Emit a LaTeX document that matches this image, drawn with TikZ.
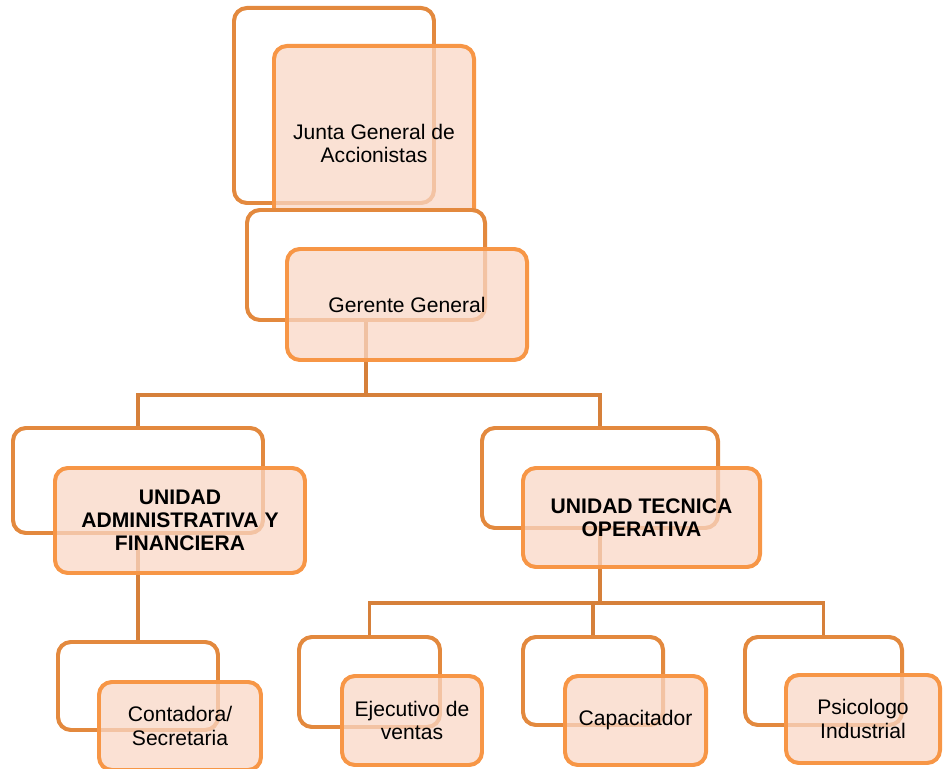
\documentclass[tikz,border=0pt]{standalone}
\usepackage{fontspec}
\setmainfont{Liberation Sans}
\usepackage{xcolor}
\usepackage{tikz}
\usetikzlibrary{positioning}

\definecolor{bordeatras}{RGB}{227,137,62}
\definecolor{bordefrente}{RGB}{247,150,70}
\definecolor{rellenofrente}{RGB}{249,215,198}
\definecolor{lineacolor}{RGB}{214,128,58}

\pgfdeclarelayer{fondo}
\pgfsetlayers{fondo,main}

\begin{document}
\begin{tikzpicture}[x=0.03cm, y=-0.03cm,
    atras/.style={draw=bordeatras, line width=3.4pt, rounded corners=11pt, fill=white},
    frente/.style={draw=bordefrente, line width=3.4pt, rounded corners=11pt,
        fill=rellenofrente, fill opacity=0.75, text opacity=1, align=center,
        font=\fontsize{18}{19.8}\selectfont},
    conector/.style={draw=lineacolor, line width=3.4pt}]
    \useasboundingbox (0,0) rectangle (943,769);

    % Junta y gerencia
    \node[atras, minimum width=6cm, minimum height=5.85cm] (junta-b) at (334,105.5) {};
    \node[frente, minimum width=6cm, minimum height=5.85cm] (junta) at (374,143.5) {Junta General de\\Accionistas};
    \node[atras, minimum width=7.14cm, minimum height=3.3cm] (gerente-b) at (366,265) {};
    \node[frente, minimum width=7.2cm, minimum height=3.33cm] (gerente) at (407,304.5) {Gerente General};

    % Unidades
    \node[atras, minimum width=7.5cm, minimum height=3.15cm] (uaf-b) at (138,480.5) {};
    \node[frente, minimum width=7.5cm, minimum height=3.15cm, font=\fontsize{18}{19.8}\selectfont\bfseries] (uaf) at (180,520.5) {UNIDAD\\ADMINISTRATIVA Y\\FINANCIERA};
    \node[atras, minimum width=7.08cm, minimum height=3cm] (uto-b) at (600,478) {};
    \node[frente, minimum width=7.11cm, minimum height=2.97cm, font=\fontsize{18}{19.8}\selectfont\bfseries] (uto) at (641.5,517.5) {UNIDAD TECNICA\\OPERATIVA};

    % Cargos
    \node[atras, minimum width=4.8cm, minimum height=2.64cm] (contadora-b) at (138,686) {};
    \node[frente, minimum width=4.86cm, minimum height=2.64cm] (contadora) at (180,726) {Contadora/\\Secretaria};
    \node[atras, minimum width=4.23cm, minimum height=2.7cm] (ejecutivo-b) at (369.5,682) {};
    \node[frente, minimum width=4.2cm, minimum height=2.67cm] (ejecutivo) at (412,720.5) {Ejecutivo de\\ventas};
    \node[atras, minimum width=4.2cm, minimum height=2.64cm] (capacitador-b) at (593,681) {};
    \node[frente, minimum width=4.23cm, minimum height=2.67cm] (capacitador) at (635.5,720.5) {Capacitador};
    \node[atras, minimum width=4.71cm, minimum height=2.64cm] (psicologo-b) at (823.5,681) {};
    \node[frente, minimum width=4.62cm, minimum height=2.64cm] (psicologo) at (863,719) {Psicologo\\Industrial};

    % Conectores
    \begin{pgfonlayer}{fondo}
        \coordinate (barra1) at (366,395);
        \coordinate (barra2) at (600,603);
        \draw[conector] (gerente-b.center) -- (barra1) -| (uaf-b.center);
        \draw[conector] (barra1) -| (uto-b.center);
        \draw[conector] (uaf-b.center) -- (contadora-b.center);
        \draw[conector] (uto-b.center) -- (barra2) -| (ejecutivo-b.center);
        \draw[conector] (barra2) -| (capacitador-b.center);
        \draw[conector] (barra2) -| (psicologo-b.center);
    \end{pgfonlayer}
\end{tikzpicture}
\end{document}
